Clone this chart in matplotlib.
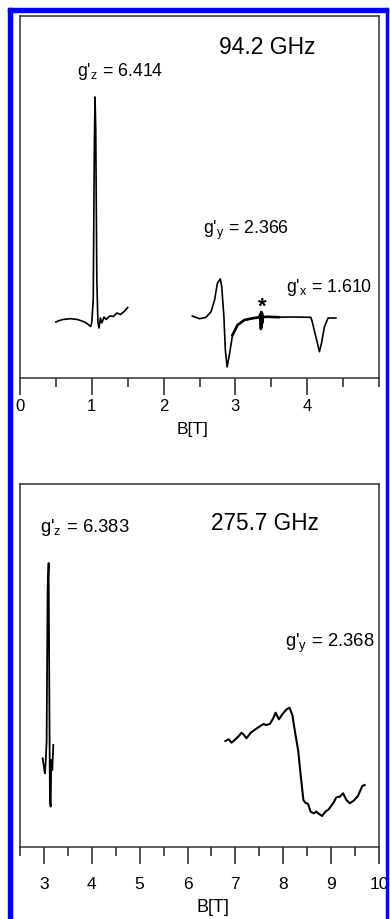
import matplotlib.pyplot as plt
import numpy as np
from matplotlib.patches import Rectangle
from matplotlib.ticker import MultipleLocator

plt.rcParams["font.family"] = ["Liberation Sans", "DejaVu Sans"]
plt.rcParams["mathtext.fontset"] = "custom"
plt.rcParams["mathtext.rm"] = "Liberation Sans"
plt.rcParams["mathtext.it"] = "Liberation Sans"

# 94.2 GHz spectrum, g'z region
b94_z = [0.50, 0.55, 0.60, 0.70, 0.80, 0.90, 0.96, 0.985, 1.00, 1.02, 1.035, 1.045,
         1.055, 1.07, 1.085, 1.10, 1.12, 1.14, 1.17, 1.20, 1.25, 1.30, 1.35, 1.40, 1.45, 1.50]
i94_z = [-0.5, -0.35, -0.25, -0.17, -0.25, -0.5, -0.8, -0.95, -0.5, 1.7, 16.7, 22.0,
         18.7, 3.7, -0.5, -1.1, -0.1, -0.6, 0.0, -0.25, 0.1, 0.05, 0.4, 0.25, 0.55, 0.95]

# 94.2 GHz spectrum, g'y / g'x region
b94_yx = [2.40, 2.50, 2.59, 2.66, 2.71, 2.75, 2.79, 2.81, 2.84, 2.86, 2.885, 2.92, 2.96,
          3.03, 3.125, 3.24, 3.33, 3.35, 3.355, 3.36, 3.365, 3.37, 3.375, 3.38, 3.45,
          3.60, 3.80, 4.05, 4.07, 4.12, 4.17, 4.20, 4.24, 4.29, 4.40]
i94_yx = [0.1, -0.17, -0.03, 0.53, 1.7, 3.4, 3.8, 3.0, 0.0, -3.3, -5.0, -3.6, -1.8,
          -0.8, -0.3, -0.13, -0.03, 0.3, -1.2, 0.5, -1.0, 0.4, -0.6, 0.0, 0.02,
          -0.02, 0.0, -0.03, -0.47, -1.97, -3.47, -2.6, -0.97, -0.1, -0.1]

# 275.7 GHz spectrum, g'z region
b275_z = [2.973, 3.0, 3.02, 3.035, 3.056, 3.077, 3.098, 3.11, 3.125, 3.14, 3.154, 3.175, 3.196]
i275_z = [0.17, -0.67, -1.33, -0.33, 1.83, 17.0, 19.7, 8.7, -4.0, -4.67, 0.0, -1.0, 1.5]

# 275.7 GHz spectrum, g'y region
b275_y = [6.79, 6.86, 6.92, 7.00, 7.07, 7.13, 7.18, 7.23, 7.32, 7.42, 7.52, 7.59, 7.64,
          7.72, 7.79, 7.84, 7.91, 7.98, 8.07, 8.13, 8.19, 8.25, 8.31, 8.36, 8.42, 8.46,
          8.52, 8.57, 8.64, 8.69, 8.75, 8.81, 8.88, 8.95, 9.04, 9.11, 9.18, 9.25, 9.32,
          9.39, 9.47, 9.56, 9.65, 9.70]
i275_y = [1.9, 2.07, 1.73, 2.07, 2.4, 2.73, 2.5, 2.17, 2.73, 3.07, 3.4, 3.6, 3.5,
          3.6, 4.17, 4.73, 4.07, 4.57, 5.07, 5.23, 4.5, 2.67, 1.0, -1.33, -4.0, -4.27,
          -4.4, -5.17, -5.33, -5.17, -5.4, -5.6, -5.17, -4.93, -4.33, -3.73, -3.67, -3.33, -4.0,
          -4.33, -4.07, -3.6, -2.6, -2.5]

W, H = 390, 919
fig = plt.figure(figsize=(W / 100, H / 100), dpi=100)

spine_col = "#333333"


def style_axes(ax, xlim, ylim, major, minor, labelsize, pad):
    ax.set_xlim(*xlim)
    ax.set_ylim(*ylim)
    ax.set_yticks([])
    ax.set_xticks(major)
    ax.xaxis.set_minor_locator(MultipleLocator(minor))
    ax.tick_params(axis="x", which="major", direction="out", length=12.5, width=1.1,
                   labelsize=labelsize, pad=pad, color="#222222")
    ax.tick_params(axis="x", which="minor", direction="out", length=6.5, width=1.1,
                   color="#222222")
    for s in ax.spines.values():
        s.set_color(spine_col)
        s.set_linewidth(1.1)


# top panel: 94.2 GHz
ax1 = fig.add_axes([20 / W, 1 - 378 / H, 359 / W, 362 / H])
style_axes(ax1, (0, 5), (-6.1, 30.1), [0, 1, 2, 3, 4], 0.5, 12, 2.5)
ax1.plot(b94_z, i94_z, color="black", lw=1.2)
ax1.plot(b94_yx, i94_yx, color="black", lw=1.2)
noisy = [(b, v) for b, v in zip(b94_yx, i94_yx) if 2.95 <= b <= 3.65]
ax1.plot([p[0] for p in noisy], [p[1] for p in noisy], color="black", lw=1.9)
ax1.text(3.44, 26.9, "94.2 GHz", fontsize=16.5, ha="center", va="center")
ax1.text(0.80, 24.5, "g'$_\\mathrm{z}$ = 6.414", fontsize=12.8, ha="left", va="center")
ax1.text(2.55, 8.7, "g'$_\\mathrm{y}$ = 2.366", fontsize=12.8, ha="left", va="center")
ax1.text(3.71, 3.0, "g'$_\\mathrm{x}$ = 1.610", fontsize=12.8, ha="left", va="center")
ax1.text(3.38, 1.0, "*", fontsize=16, ha="center", va="center", fontweight="bold")
ax1.set_xlabel("B[T]", fontsize=12.5)
ax1.xaxis.set_label_coords(0.482, -0.141)
ax1.xaxis.label.set_va("center")

# bottom panel: 275.7 GHz
ax2 = fig.add_axes([20 / W, 1 - 846.7 / H, 359 / W, 362.7 / H])
style_axes(ax2, (2.5, 10), (-8.67, 27.6), [3, 4, 5, 6, 7, 8, 9, 10], 0.5, 12.5, 9)
ax2.plot(b275_z, i275_z, color="black", lw=1.3)
ax2.plot(b275_y, i275_y, color="black", lw=1.5)
ax2.text(7.62, 23.7, "275.7 GHz", fontsize=16.3, ha="center", va="center")
ax2.text(2.92, 23.3, "g'$_\\mathrm{z}$ = 6.383", fontsize=13.3, ha="left", va="center")
ax2.text(8.04, 11.7, "g'$_\\mathrm{y}$ = 2.368", fontsize=13.3, ha="left", va="center")
ax2.set_xlabel("B[T]", fontsize=13)
ax2.xaxis.set_label_coords(0.538, -0.169)
ax2.xaxis.label.set_va("center")

# blue frame
blue = "#0000ff"
fig.add_artist(Rectangle((8 / W, 0), 4 / W, 1 - 8 / H, transform=fig.transFigure,
                         color=blue, zorder=10))
fig.add_artist(Rectangle((8 / W, 1 - 12 / H), 380 / W, 4 / H, transform=fig.transFigure,
                         color=blue, zorder=10))
fig.add_artist(Rectangle((385.5 / W, 0), 2.5 / W, 1 - 8 / H, transform=fig.transFigure,
                         color=blue, zorder=10))

fig.savefig("out.png", dpi=100)
